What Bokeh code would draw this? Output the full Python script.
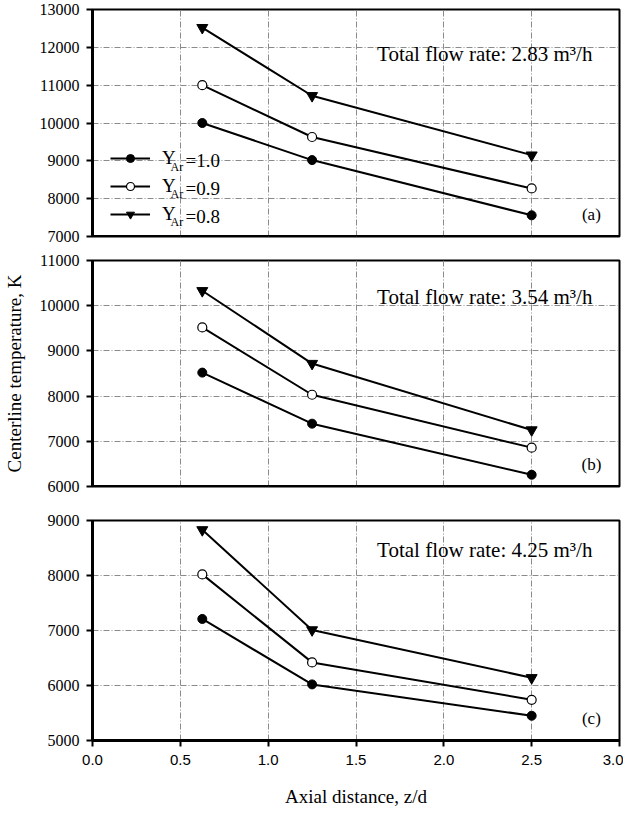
from bokeh.plotting import figure
from bokeh.layouts import column
from bokeh.models import Label, Legend, LegendItem, FixedTicker, Span
from bokeh.core.properties import value
from bokeh.embed import file_html
from bokeh.resources import INLINE

# ---- data ----
axial = [0.625, 1.25, 2.5]

a_y10 = [10000, 9020, 7560]
a_y09 = [11000, 9630, 8270]
a_y08 = [12520, 10720, 9150]

b_y10 = [8520, 7390, 6260]
b_y09 = [9520, 8030, 6860]
b_y08 = [10330, 8720, 7250]

c_y10 = [7210, 6020, 5450]
c_y09 = [8020, 6420, 5740]
c_y08 = [8830, 7010, 6140]

flow_labels = ["Total flow rate: 2.83 m\u00b3/h",
               "Total flow rate: 3.54 m\u00b3/h",
               "Total flow rate: 4.25 m\u00b3/h"]
panel_tags = ["(a)", "(b)", "(c)"]
legend_values = ["=1.0", "=0.9", "=0.8"]
x_ticks = [0.0, 0.5, 1.0, 1.5, 2.0, 2.5, 3.0]

SERIF = "Liberation Serif"
SANS = "Liberation Sans"


def make_panel(yr, series, flow_text, flow_y, tag, tag_y, top, frame_h, bottom, show_x):
    p = figure(width=623, height=top + frame_h + bottom,
               x_range=(0, 3), y_range=yr,
               output_backend="svg", toolbar_location=None,
               min_border_left=92, min_border_right=4,
               min_border_top=top, min_border_bottom=bottom)
    p.xaxis.ticker = FixedTicker(ticks=x_ticks)
    p.yaxis.ticker = FixedTicker(ticks=list(range(yr[0], yr[1] + 1, 1000)))
    for ax in (p.xaxis, p.yaxis):
        ax.axis_line_width = 3
        ax.axis_line_color = "black"
        ax.major_tick_line_width = 2
        ax.major_tick_line_color = "black"
        ax.major_tick_out = 6
        ax.major_tick_in = 0
        ax.minor_tick_line_color = None
    p.yaxis.major_label_text_font = SERIF
    p.yaxis.major_label_text_font_size = "16px"
    p.yaxis.major_label_text_color = "black"
    p.yaxis.major_label_standoff = 7
    p.xaxis.major_label_text_font = SANS
    p.xaxis.major_label_text_font_size = "15px"
    p.xaxis.major_label_text_color = "black"
    p.xaxis.major_label_standoff = 8
    p.xaxis.major_label_overrides = {0: "0.0", 1: "1.0", 2: "2.0", 3: "3.0"}
    if not show_x:
        p.xaxis.visible = False
        p.add_layout(Span(location=yr[0], dimension="width", line_color="black", line_width=3))
    p.grid.grid_line_color = "#8a8a8a"
    p.grid.grid_line_width = 1
    p.grid.grid_line_dash = "6 2 1 2"
    p.outline_line_color = "black"
    p.outline_line_width = 2
    p.outline_line_alpha = 1
    p.background_fill_color = "white"

    y10, y09, y08 = series
    l1 = p.line(axial, y10, line_color="black", line_width=2)
    m1 = p.scatter(axial, y10, marker="circle", size=9, fill_color="black", line_color="black")
    l2 = p.line(axial, y09, line_color="black", line_width=2)
    m2 = p.scatter(axial, y09, marker="circle", size=9, fill_color="white", line_color="black", line_width=1.2)
    l3 = p.line(axial, y08, line_color="black", line_width=2)
    m3 = p.scatter(axial, y08, marker="inverted_triangle", size=11, fill_color="black", line_color="black")

    p.add_layout(Label(x=1.62, y=flow_y, text=flow_text, text_font=SERIF,
                       text_font_size="21px", text_baseline="middle", text_align="left",
                       text_color="black"))
    p.add_layout(Label(x=2.84, y=tag_y, text=tag, text_font=SERIF,
                       text_font_size="17px", text_baseline="middle", text_align="center",
                       text_color="black"))
    return p, [(l1, m1), (l2, m2), (l3, m3)]


pa, ra = make_panel((7000, 13000), (a_y10, a_y09, a_y08), flow_labels[0], 11830,
                    panel_tags[0], 7570, 9, 227, 10, False)
pb, rb = make_panel((6000, 11000), (b_y10, b_y09, b_y08), flow_labels[1], 10200,
                    panel_tags[1], 6480, 14, 226, 12, False)
pc, rc = make_panel((5000, 9000), (c_y10, c_y09, c_y08), flow_labels[2], 8455,
                    panel_tags[2], 5400, 22, 220, 72, True)

# legend in panel (a)
items = [LegendItem(label=value("Y"), renderers=list(r)) for r in ra]
leg = Legend(items=items, location=(18, 11), glyph_width=40, glyph_height=20,
             label_height=20, spacing=6, padding=0, margin=0,
             border_line_color=None, background_fill_alpha=0,
             label_standoff=12, label_text_font=SERIF, label_text_font_size="19px",
             label_text_color="black")
pa.add_layout(leg)

row_y = [9000, 8270, 7540]
for yv, txt in zip(row_y, legend_values):
    pa.add_layout(Label(x=0.399, y=yv, x_offset=8, y_offset=-6, text="Ar", text_font=SERIF,
                        text_font_size="12px", text_baseline="middle", text_align="left",
                        text_color="black"))
    pa.add_layout(Label(x=0.399, y=yv, x_offset=23, text=txt, text_font=SERIF,
                        text_font_size="19px", text_baseline="middle", text_align="left",
                        text_color="black"))

# shared y-axis label (on middle panel)
pb.yaxis.axis_label = "Centerline temperature, K"
pb.yaxis.axis_label_text_font = SERIF
pb.yaxis.axis_label_text_font_size = "19px"
pb.yaxis.axis_label_text_font_style = "normal"
pb.yaxis.axis_label_text_color = "black"
pb.yaxis.axis_label_standoff = 12

pc.xaxis.axis_label = "Axial distance, z/d"
pc.xaxis.axis_label_text_font = SERIF
pc.xaxis.axis_label_text_font_size = "19px"
pc.xaxis.axis_label_text_font_style = "normal"
pc.xaxis.axis_label_text_color = "black"
pc.xaxis.axis_label_standoff = 18

layout = column(pa, pb, pc, spacing=0)
open("out.html", "w").write(file_html(layout, INLINE))
